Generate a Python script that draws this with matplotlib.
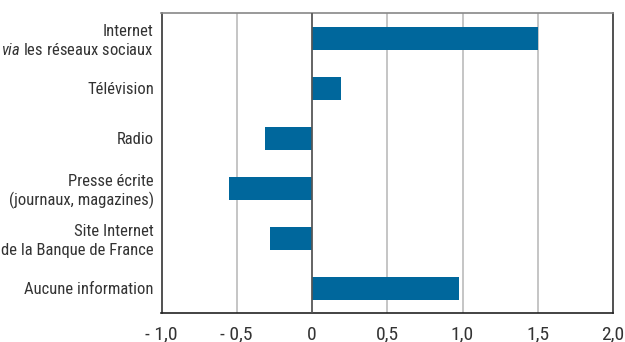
import matplotlib
matplotlib.use("Agg")
import matplotlib.pyplot as plt

plt.rcParams["font.family"] = ["Roboto Condensed", "DejaVu Sans"]
plt.rcParams["mathtext.fontset"] = "custom"
plt.rcParams["mathtext.it"] = "Roboto Condensed:italic"
plt.rcParams["mathtext.rm"] = "Roboto Condensed"

categories = [
    "Internet\n$\\mathit{via}$ les réseaux sociaux",
    "Télévision",
    "Radio",
    "Presse écrite\n(journaux, magazines)",
    "Site Internet\nde la Banque de France",
    "Aucune information",
]
values = [1.50, 0.19, -0.31, -0.55, -0.28, 0.98]
xticks = [-1.0, -0.5, 0.0, 0.5, 1.0, 1.5, 2.0]
xtick_labels = ["- 1,0", "- 0,5", "0", "0,5", "1,0", "1,5", "2,0"]

bar_color = "#00679c"
text_color = "#333333"

fig = plt.figure(figsize=(6.25, 3.42), dpi=100)
ax = fig.add_axes([161.5 / 625, 1 - 313 / 342, (613 - 161.5) / 625, 300 / 342])

pos = list(range(len(categories)))
ax.barh(pos, values, height=0.46, color=bar_color, zorder=3)

ax.set_ylim(len(categories) - 0.5, -0.5)
ax.set_xlim(-1.0, 2.0)
ax.set_yticks(pos)
ax.set_yticklabels(categories, fontsize=12, color=text_color, linespacing=1.25)
ax.set_xticks(xticks)
ax.set_xticklabels(xtick_labels, fontsize=14, color=text_color)
ax.tick_params(axis="both", length=0)
ax.tick_params(axis="y", pad=5.5)
ax.tick_params(axis="x", pad=9)

# light grid, darker zero line
for x in xticks[1:-1]:
    ax.axvline(x, color="#bbbbbb", linewidth=1.2, zorder=1)
ax.axvline(0, color="#555555", linewidth=1.2, zorder=4)

ax.spines["top"].set_color("#888888")
ax.spines["left"].set_color("#333333")
ax.spines["right"].set_color("#333333")
ax.spines["bottom"].set_color("#222222")
for s in ax.spines.values():
    s.set_linewidth(1.2)

fig.savefig("out.png", dpi=100)
